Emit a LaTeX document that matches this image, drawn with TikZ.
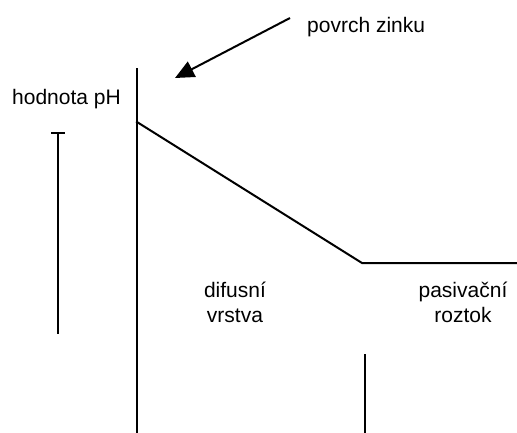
\documentclass[tikz,border=0pt]{standalone}
\usepackage{fontspec}
\setmainfont{Liberation Sans}
\usetikzlibrary{arrows.meta}
\begin{document}
\begin{tikzpicture}[x=1pt,y=-1pt,
  axis/.style={line width=2pt,line cap=rect},
  lbl/.style={inner sep=0pt,font=\fontsize{21}{25}\selectfont},
  pointer/.style={line width=2pt,-{Triangle[length=19pt,width=17pt]}}]
\useasboundingbox (0,0) rectangle (517,432);
% zinc surface and the pH profile
\coordinate (wallTop) at (137,69);
\coordinate (wallBot) at (137,432);
\coordinate (phHigh) at (137,122);
\coordinate (knee) at (362,263);
\coordinate (bulkEnd) at (516,263);
\coordinate (edgeTop) at (365,355);
\coordinate (edgeBot) at (365,432);
\coordinate (scaleTop) at (58,133);
\coordinate (scaleBot) at (58,334);
\coordinate (tickL) at (51,133);
\coordinate (tickR) at (65,133);
\coordinate (arrTail) at (290,18);
\coordinate (arrTip) at (175,78);
\draw[axis] (wallTop) -- (wallBot);
\draw[axis] (phHigh) -- (knee) -- (bulkEnd);
\draw[axis] (edgeTop) -- (edgeBot);
\draw[line width=1.5pt] (scaleTop) -- (scaleBot);
\draw[line width=1.5pt] (tickL) -- (tickR);
\draw[pointer] (arrTail) -- (arrTip);
% labels
\node[lbl,anchor=base west] (surf) at (307,32) {povrch zinku};
\node[lbl,anchor=base west] (ph) at (12,104) {hodnota pH};
\node[lbl,anchor=base,align=center] (diff) at (235,322) {difusní\\vrstva};
\node[lbl,anchor=base,align=center] (bulk) at (463,322) {pasivační\\roztok};
\end{tikzpicture}
\end{document}
